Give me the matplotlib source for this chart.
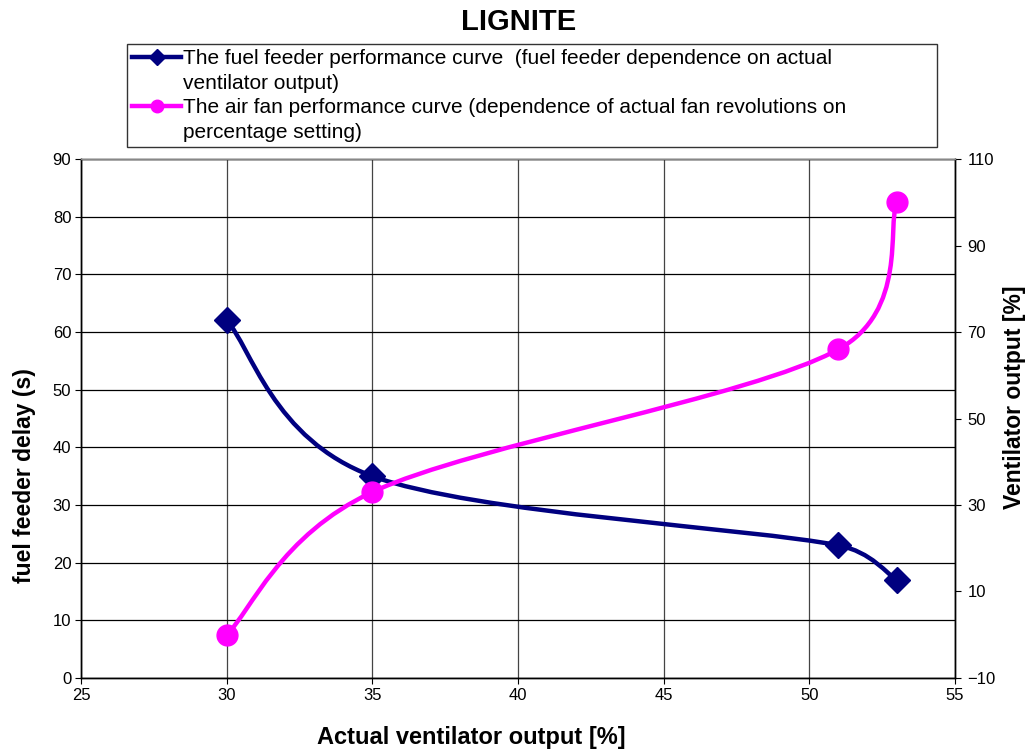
import matplotlib
matplotlib.use("Agg")
import numpy as np
import matplotlib.pyplot as plt
from matplotlib.path import Path
from matplotlib.patches import PathPatch
from matplotlib.lines import Line2D

plt.rcParams["font.family"] = ["Liberation Sans", "DejaVu Sans"]

# data
feeder_x = [30, 35, 51, 53]
feeder_delay = [62, 35, 23, 17]
fan_x = [30, 35, 51, 53]
fan_output = [0, 33, 66, 100]

feeder_label = ["The fuel feeder performance curve  (fuel feeder dependence on actual",
                "ventilator output)"]
fan_label = ["The air fan performance curve (dependence of actual fan revolutions on",
             "percentage setting)"]


def smooth_path(a, xs, ys):
    # Excel-like smoothed line, bezier control points worked out in pixel space
    tr = a.transData
    pts = tr.transform(np.column_stack([xs, ys]))
    n = len(pts)
    verts = [pts[0]]
    codes = [Path.MOVETO]
    for i in range(n - 1):
        p0 = pts[i - 1] if i > 0 else pts[i]
        p1 = pts[i]
        p2 = pts[i + 1]
        p3 = pts[i + 2] if i + 2 < n else pts[i + 1]
        seg = np.hypot(*(p2 - p1))
        v1 = (p2 - p0) / 6
        v2 = (p3 - p1) / 6
        for v in (v1, v2):
            ln = np.hypot(*v)
            if ln > seg / 2:
                v *= seg / 2 / ln
        verts += [p1 + v1, p2 - v2, p2]
        codes += [Path.CURVE4] * 3
    return Path(tr.inverted().transform(np.array(verts)), codes)


navy = "#000080"
magenta = "#FF00FF"

fig = plt.figure(figsize=(10.27, 7.49), dpi=100)
ax = fig.add_axes([0.0789, 0.0948, 0.8510, 0.6929])
ax2 = ax.twinx()

ax.set_xlim(25, 55)
ax.set_ylim(0, 90)
ax2.set_ylim(-10, 110)
ax.set_xticks(range(25, 56, 5))
ax.set_yticks(range(0, 91, 10))
ax2.set_yticks(range(-10, 111, 20))

ax.grid(True, axis="y", color="black", linewidth=0.9)
ax.grid(True, axis="x", color="#444444", linewidth=0.9)
ax.set_axisbelow(True)

ax.add_patch(PathPatch(smooth_path(ax, feeder_x, feeder_delay), facecolor="none",
                       edgecolor=navy, linewidth=3.2, zorder=3))
ax.plot(feeder_x, feeder_delay, linestyle="none", marker="D", markersize=13,
        color=navy, zorder=4)

ax2.add_patch(PathPatch(smooth_path(ax2, fan_x, fan_output), facecolor="none",
                        edgecolor=magenta, linewidth=3.2, zorder=3))
ax2.plot(fan_x, fan_output, linestyle="none", marker="o", markersize=15,
         color=magenta, zorder=4)

for a in (ax, ax2):
    a.tick_params(labelsize=12, direction="out", length=4, pad=3, color="black")
    for s in a.spines.values():
        s.set_color("black")
        s.set_linewidth(1.0)
ax2.tick_params(pad=5)
ax2.spines["top"].set_color("#888888")

ax.set_xlabel("Actual ventilator output [%]", fontsize=17, fontweight="bold",
              va="center")
ax.xaxis.set_label_coords(0.446, -0.1156)
ax.set_ylabel("fuel feeder delay (s)", fontsize=16.5, fontweight="bold",
              va="center")
ax.yaxis.set_label_coords(-0.065, 0.391)
ax2.set_ylabel("Ventilator output [%]", fontsize=16.5, fontweight="bold",
               va="center")
ax2.yaxis.set_label_coords(1.0675, 0.54)

fig.text(0.505, 0.9706, "LIGNITE", ha="center", va="center", fontsize=21,
         fontweight="bold")

blank = Line2D([], [], linestyle="none")
handles = [
    Line2D([], [], color=navy, linewidth=3.2, marker="D", markersize=8),
    blank,
    Line2D([], [], color=magenta, linewidth=3.2, marker="o", markersize=9),
    blank,
]
labels = [feeder_label[0], feeder_label[1], fan_label[0], fan_label[1]]
leg = fig.legend(handles, labels, loc="upper left",
                 bbox_to_anchor=(0.1237, 0.797, 0.789, 0.144), mode="expand",
                 fontsize=15, frameon=True, fancybox=False, borderaxespad=0,
                 handlelength=2.35, handletextpad=0.1, labelspacing=0.26,
                 borderpad=0.25)
leg.get_frame().set_edgecolor("black")
leg.get_frame().set_linewidth(1.0)

fig.savefig("out.png", dpi=100)
